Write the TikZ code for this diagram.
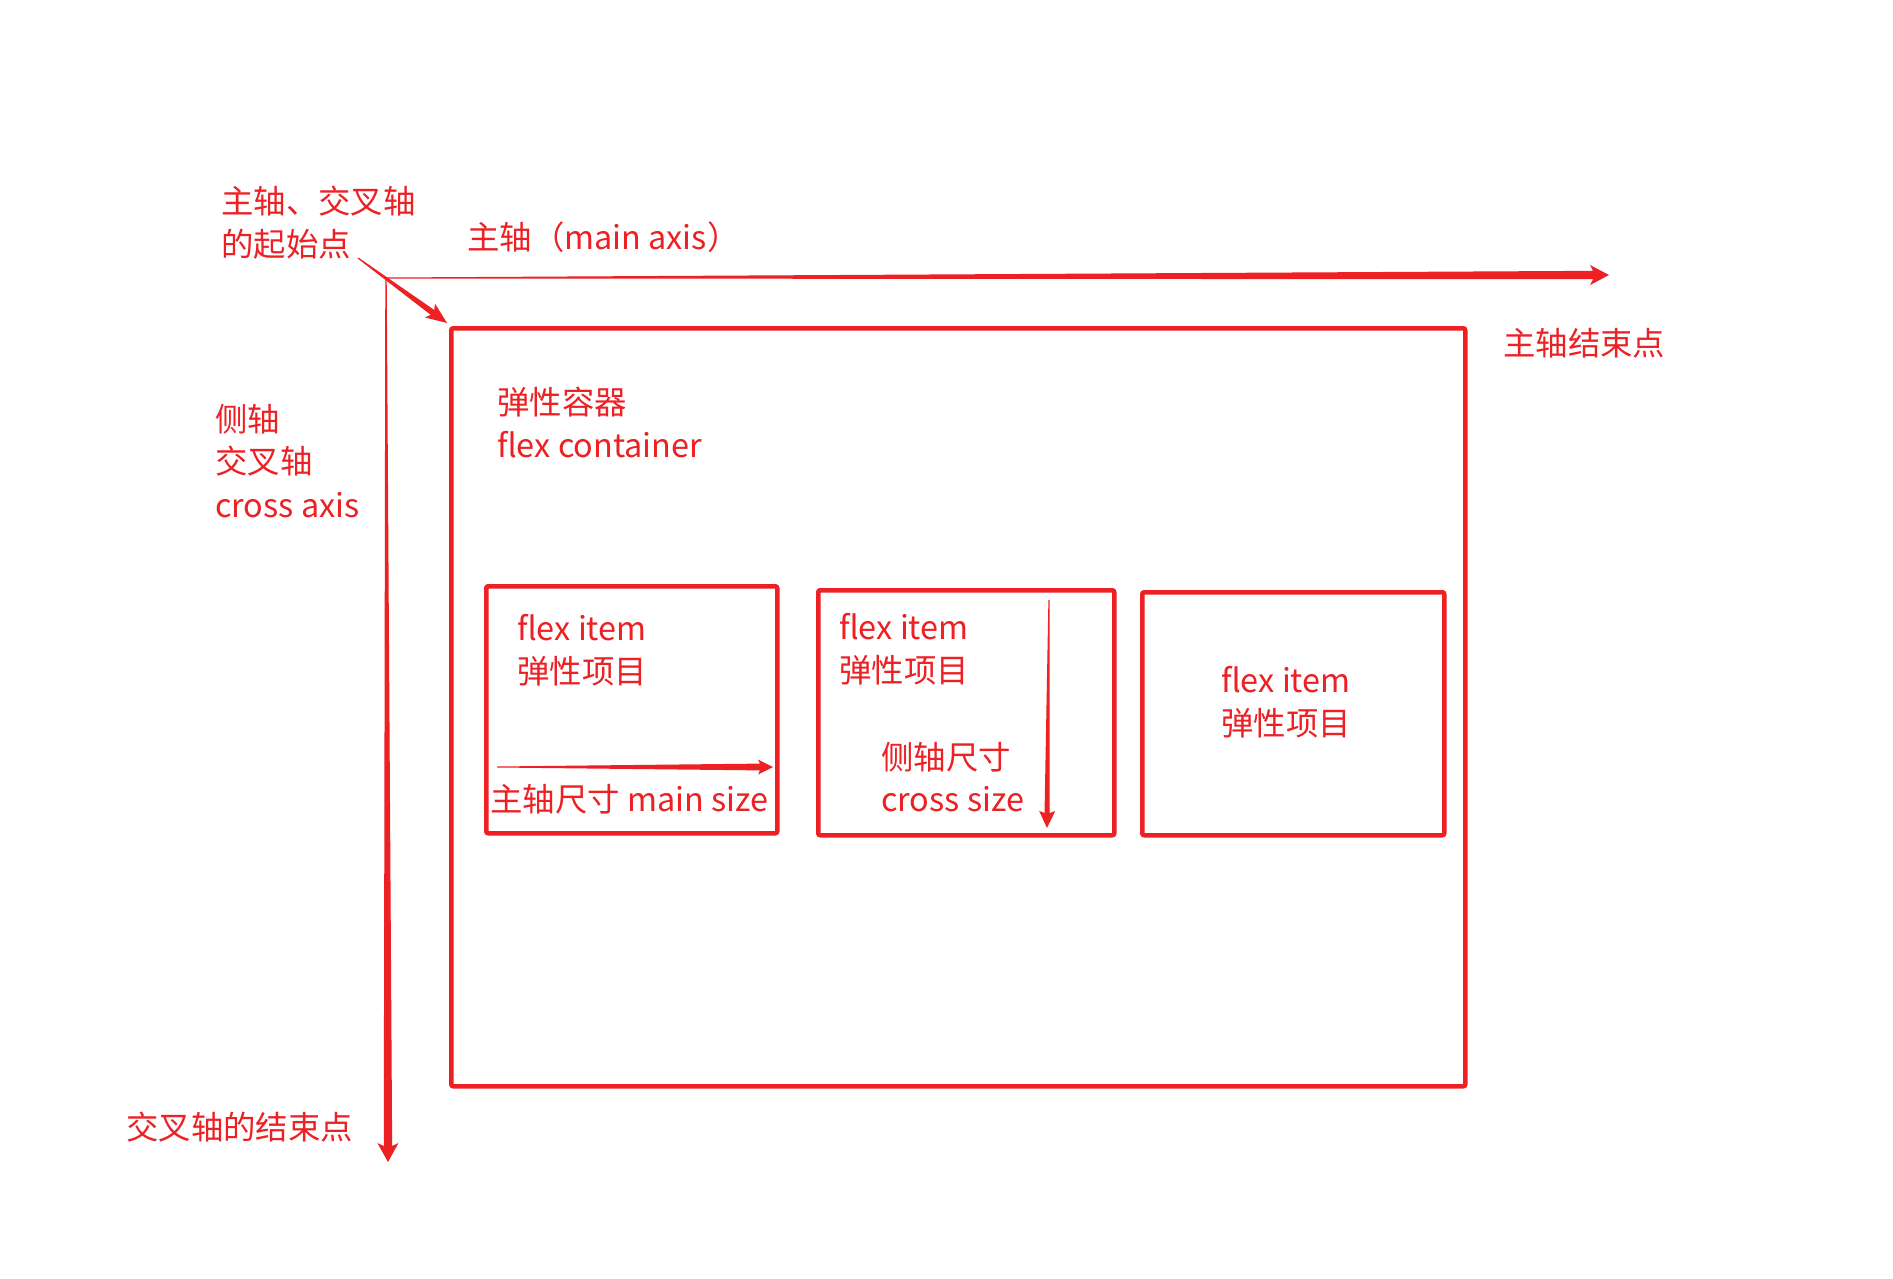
\documentclass[tikz,border=0pt]{standalone}
\usepackage{fontspec}
\setmainfont{Noto Sans CJK SC}
\usetikzlibrary{calc}
\definecolor{fr}{RGB}{237,32,36}
% #1 start, #2 tip, #3 start half width, #4 shaft end half width, #5 shaft join distance, #6 head half width, #7 head corner distance
\newcommand\taperarrow[7]{%
  \coordinate (tA) at ($(#2)!#5!(#1)$);
  \coordinate (tB) at ($(#2)!#7!(#1)$);
  \fill[fr] ($(#1)!#3!90:(#2)$) -- ($(tA)!#4!90:(#2)$) -- ($(tB)!#6!90:(#2)$) -- (#2)
    -- ($(tB)!#6!-90:(#2)$) -- ($(tA)!#4!-90:(#2)$) -- ($(#1)!#3!-90:(#2)$) -- cycle;}
\begin{document}
\begin{tikzpicture}[x=1pt,y=-1pt,
  lbl/.style={anchor=base west, inner sep=0pt, text=fr, font=\fontsize{32.4}{32.4}\selectfont},
  boxst/.style={draw=fr, line width=4.5pt, rounded corners=2pt, anchor=north west, inner sep=0pt}]
\useasboundingbox (0,0) rectangle (1893,1279);
\fill[white] (0,0) rectangle (1893,1279);

% boxes
\node[boxst, minimum width=1014pt, minimum height=758pt] (cont) at (449,326) {};
\node[boxst, minimum width=291pt, minimum height=247pt] (item1) at (484,584) {};
\node[boxst, minimum width=296pt, minimum height=245pt] (item2) at (816,588) {};
\node[boxst, minimum width=302pt, minimum height=243pt] (item3) at (1140,590) {};

% axis coordinates
\coordinate (O) at (386,278);
\coordinate (mainend) at (1609,275);
\coordinate (crossend) at (388,1162);
\coordinate (startfrom) at (358,258);
\coordinate (startto) at (447,323);
\coordinate (msA) at (497,767);
\coordinate (msB) at (773,767);
\coordinate (csA) at (1049,600);
\coordinate (csB) at (1047,828);

\taperarrow{O}{mainend}{0.5pt}{4.2pt}{16pt}{10pt}{19pt}
\taperarrow{O}{crossend}{0.7pt}{4.2pt}{16pt}{10.5pt}{19pt}
\taperarrow{startfrom}{startto}{0.6pt}{3pt}{18pt}{8.5pt}{21pt}
\taperarrow{msA}{msB}{0.5pt}{3.4pt}{13pt}{7.5pt}{15pt}
\taperarrow{csA}{csB}{0.6pt}{2.6pt}{15pt}{8pt}{17pt}

% labels
\node[lbl] (t1) at (221,213) {主轴、交叉轴};
\node[lbl] (t2) at (221,256) {的起始点};
\node[lbl] (t3) at (467,249) {主轴（main axis）};
\node[lbl] (t4) at (1503,355) {主轴结束点};
\node[lbl] (t5) at (497,414) {弹性容器};
\node[lbl] (t6) at (497,457) {flex container};
\node[lbl] (t7) at (215,431) {侧轴};
\node[lbl] (t8) at (215,473) {交叉轴};
\node[lbl] (t9) at (215,517) {cross axis};
\node[lbl] (t10) at (126,1139) {交叉轴的结束点};
\node[lbl] (i1a) at (517,640) {flex item};
\node[lbl] (i1b) at (517,683) {弹性项目};
\node[lbl] (i1c) at (490,811) {主轴尺寸 main size};
\node[lbl] (i2a) at (839,639) {flex item};
\node[lbl] (i2b) at (839,682) {弹性项目};
\node[lbl] (i2c) at (881,769) {侧轴尺寸};
\node[lbl] (i2d) at (881,811) {cross size};
\node[lbl] (i3a) at (1221,692) {flex item};
\node[lbl] (i3b) at (1221,735) {弹性项目};
\end{tikzpicture}
\end{document}
